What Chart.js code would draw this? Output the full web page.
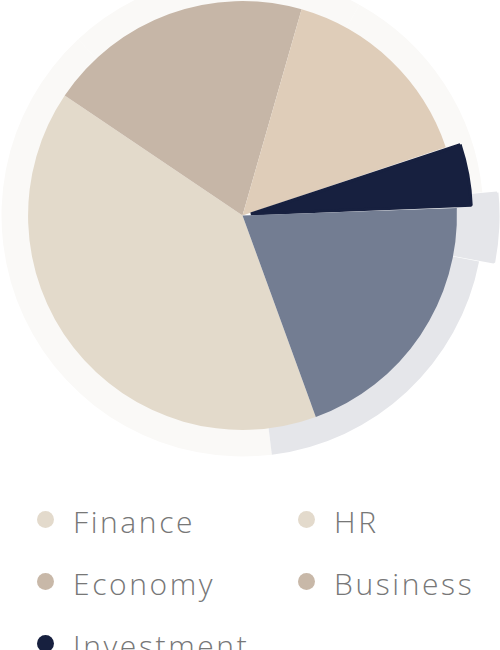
<!DOCTYPE html>
<html>
<head>
  <title>Department Share</title>
  <script src="https://cdn.jsdelivr.net/npm/chart.js"></script>
  <style>
    body { margin: 0; background: #fff; }
    #wrap { width: 500px; height: 460px; position: relative; }
    #legend {
      display: grid;
      grid-template-columns: 261px 261px;
      padding-left: 37px;
      margin-top: 30px;
      font-family: 'Open Sans', sans-serif;
      font-weight: 300;
      font-size: 30px;
      letter-spacing: 2.6px;
      color: #777;
    }
    .item { height: 62px; display: flex; align-items: center; }
    .dot { width: 17px; height: 17px; border-radius: 50%; margin-right: 19px; position: relative; top: -2px; flex: none; }
  </style>
</head>
<body>
  <div id="wrap"><canvas id="chart"></canvas></div>
  <div id="legend"></div>

  <script>
    const labels = ['Finance', 'HR', 'Economy', 'Business', 'Investment'];
    const shares = [40, 20, 15.4, 4.6, 20];

    const sliceColors = ['#e3dacb', '#c6b6a7', '#dfcdb9', '#17203f', '#737d92'];
    const haloColors = ['#faf9f7', '#faf9f7', '#faf9f7', '#e5e6ea', '#e5e6ea'];
    const legendColors = ['#e3dacc', '#e3dacc', '#c8b8a8', '#c8b8a8', '#17203f'];
    const pulled = [0, 0, 0, 34, 0];
    const pulledBorder = [0, 0, 0, 3, 0];

    const ctx = document.getElementById('chart').getContext('2d');

    const chart = new Chart(ctx, {
      type: 'pie',
      data: {
        labels: labels,
        datasets: [
          {
            // halo ring, turned a bit further than the pie and drawn behind it
            data: shares,
            backgroundColor: haloColors,
            borderColor: haloColors,
            borderWidth: pulledBorder,
            offset: pulled,
            rotation: 173,
            radius: 241,
            weight: 41,
            order: 1
          },
          {
            data: shares,
            backgroundColor: sliceColors,
            borderColor: sliceColors,
            borderWidth: pulledBorder,
            offset: pulled,
            rotation: 160,
            radius: 258.4,
            weight: 200,
            order: 0
          }
        ]
      },
      options: {
        responsive: true,
        maintainAspectRatio: false,
        animation: false,
        events: [],
        layout: { padding: { right: 15, bottom: 29 } },
        plugins: {
          legend: { display: false },
          tooltip: { enabled: false }
        }
      }
    });

    // html legend in two columns
    const legend = document.getElementById('legend');
    labels.forEach((name, i) => {
      const item = document.createElement('div');
      item.className = 'item';
      const dot = document.createElement('span');
      dot.className = 'dot';
      dot.style.background = legendColors[i];
      const txt = document.createElement('span');
      txt.textContent = name;
      item.appendChild(dot);
      item.appendChild(txt);
      legend.appendChild(item);
    });
  </script>
</body>
</html>
